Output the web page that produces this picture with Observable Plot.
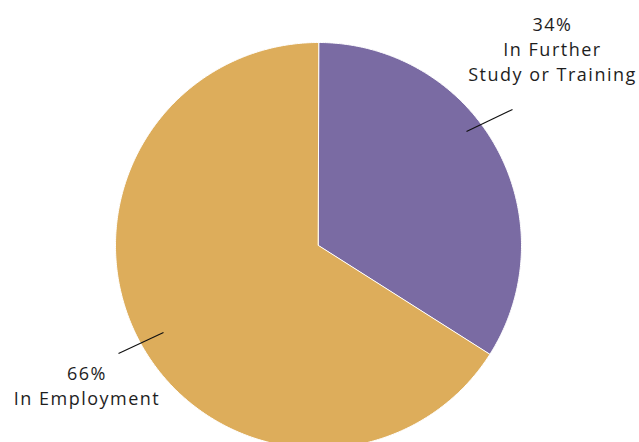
<!DOCTYPE html>
<html>
<head>
<meta charset="utf-8">
<script src="https://cdn.jsdelivr.net/npm/d3@7"></script>
<script src="https://cdn.jsdelivr.net/npm/@observablehq/plot@0.6"></script>
<style>
  html, body { margin: 0; padding: 0; background: #fff; }
</style>
</head>
<body>
<div id="chart"></div>
<script>
// ---- data ----
const categories = ["In Further Study or Training", "In Employment"];
const values = [34, 66];
const labels = ["34%\nIn Further\nStudy or Training", "66%\nIn Employment"];
const colors = ["#7a6ba3", "#ddad5b"];

// ---- layout ----
const W = 639, H = 442;
const cx = 318, cy = 245, R = 203;
const labelPos = [{x: 552, y: 47.5}, {x: 86.5, y: 384}];
const leaders = [
  {x1: 466, y1: 131, x2: 512, y2: 109},
  {x1: 118, y1: 353, x2: 163, y2: 332}
];

const pie = d3.pie().sort(null).value(d => d.value)(
  categories.map((c, i) => ({category: c, value: values[i]}))
);

// polygon points for each slice, derived from pie angles
const pts = [];
for (const a of pie) {
  const cat = a.data.category;
  pts.push({category: cat, x: cx, y: cy});
  const n = Math.max(2, Math.ceil((a.endAngle - a.startAngle) / (Math.PI / 360)));
  for (let k = 0; k <= n; k++) {
    const t = a.startAngle + (a.endAngle - a.startAngle) * k / n;
    pts.push({category: cat, x: cx + R * Math.sin(t), y: cy - R * Math.cos(t)});
  }
}

const textData = labels.map((t, i) => ({text: t, ...labelPos[i]}));

const chart = Plot.plot({
  width: W,
  height: H,
  margin: 0,
  x: {domain: [0, W], range: [0, W], axis: null},
  y: {domain: [0, H], range: [0, H], axis: null},
  color: {domain: categories, range: colors},
  style: {fontFamily: "'Open Sans', sans-serif", background: "#fff", letterSpacing: "1.5px"},
  marks: [
    Plot.line(pts, {
      x: "x", y: "y", z: "category",
      fill: "category", stroke: "#fff", strokeWidth: 1,
      curve: "linear-closed"
    }),
    Plot.link(leaders, {x1: "x1", y1: "y1", x2: "x2", y2: "y2", stroke: "#111", strokeWidth: 1.2}),
    Plot.text(textData, {
      x: "x", y: "y", text: "text",
      fontSize: 18, fontWeight: 400, lineHeight: 1.39, fill: "#1e1e1e", textAnchor: "middle"
    })
  ]
});
document.getElementById("chart").append(chart);
</script>
</body>
</html>
